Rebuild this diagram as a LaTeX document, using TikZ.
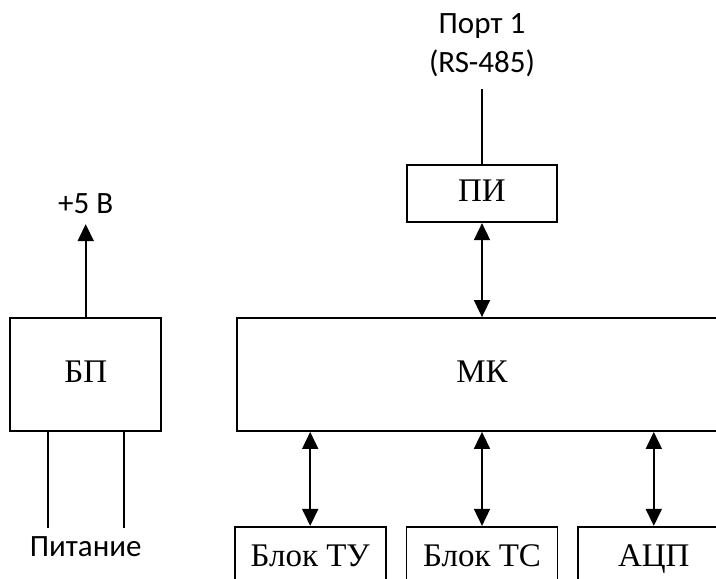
\documentclass[tikz,border=0pt]{standalone}
\usepackage{fontspec}
\setmainfont{Liberation Serif}
\newfontfamily\calfont{Carlito}
\usetikzlibrary{positioning,arrows.meta}

\begin{document}
\begin{tikzpicture}[x=1pt,y=-1pt,
    blok/.style={draw,line width=1.8pt,minimum width=151pt,minimum height=113pt,
      inner sep=0pt,text height=22pt,text depth=7pt,font=\fontsize{33}{37}\selectfont},
    lbl/.style={inner sep=0pt,align=center,font=\calfont\fontsize{31}{39}\selectfont},
    wire/.style={line width=1.7pt},
    tip/.style={-{Triangle[length=17pt,width=16pt]}},
    bus/.style={{Triangle[length=17pt,width=16pt]}-{Triangle[length=17pt,width=16pt]}},
  ]
  \useasboundingbox (0,0) rectangle (716,579);
  \clip (0,0) rectangle (716,579);
  % blocks
  \node[blok, minimum width=490pt] (mk) at (482,374.5) {МК};
  \node[blok, minimum width=150pt, minimum height=57pt, above=94pt of mk] (pi) {ПИ};
  \node[blok, left=74pt of mk] (bp) {БП};
  \node[blok, minimum height=64pt, below=94pt of mk] (ts) {Блок ТС};
  \node[blok, minimum height=64pt, left=19pt of ts] (tu) {Блок ТУ};
  \node[blok, minimum height=64pt, right=19pt of ts] (adc) {АЦП};
  % outer ends
  \coordinate[above=75pt of pi] (port);
  \node[lbl, above=12pt of port] (portlbl) {Порт 1\\(RS-485)};
  \coordinate[above=93pt of bp] (v5);
  \node[lbl, above=10pt of v5] (v5lbl) {+5 В};
  \coordinate[below left=96pt and 38pt of bp.south] (pw1);
  \coordinate[below right=96pt and 38pt of bp.south] (pw2);
  \node[lbl, below=105pt of bp] (pwlbl) {Питание};
  % connections
  \draw[wire] (pi) -- (port);
  \draw[wire,tip] (bp) -- (v5);
  \draw[wire] (bp.south -| pw1) -- (pw1);
  \draw[wire] (bp.south -| pw2) -- (pw2);
  \draw[wire,bus] (pi) -- (mk);
  \draw[wire,bus] (mk.south -| tu) -- (tu);
  \draw[wire,bus] (mk.south -| ts) -- (ts);
  \draw[wire,bus] (mk.south -| adc) -- (adc);
\end{tikzpicture}
\end{document}
